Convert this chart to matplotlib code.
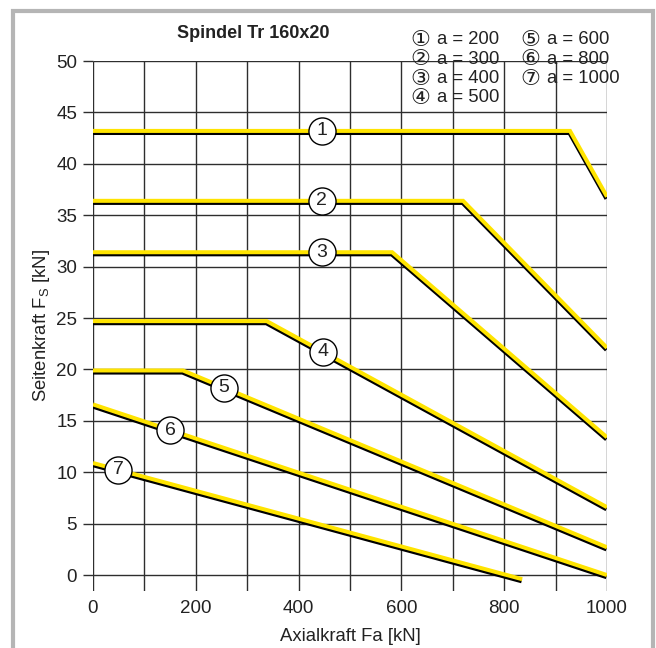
import matplotlib
matplotlib.use("Agg")
import matplotlib.pyplot as plt
import matplotlib.transforms as mtransforms
from matplotlib.patches import Rectangle
import numpy as np

plt.rcParams['font.family'] = ['Liberation Sans', 'DejaVu Sans']
plt.rcParams['mathtext.fontset'] = 'custom'
plt.rcParams['mathtext.rm'] = 'Liberation Sans'

# Curve break points (Axialkraft Fa [kN], Seitenkraft Fs [kN]) per distance a
curve_ids = ["1", "2", "3", "4", "5", "6", "7"]
a_values = [200, 300, 400, 500, 600, 800, 1000]
curve_fa = [
    [0, 928, 1000],
    [0, 720, 1000],
    [0, 582, 1000],
    [0, 338, 1000],
    [0, 175, 1000],
    [0, 1000],
    [0, 835],
]
curve_fs = [
    [43.2, 43.2, 36.8],
    [36.4, 36.4, 22.1],
    [31.4, 31.4, 13.4],
    [24.7, 24.7, 6.6],
    [19.9, 19.9, 2.7],
    [16.6, 0.0],
    [10.9, -0.4],
]
# Position of each numbered marker along its curve (Fa)
marker_fa = [445, 445, 445, 447, 255, 150, 49]

x_ticks = [0, 200, 400, 600, 800, 1000]
y_ticks = [0, 5, 10, 15, 20, 25, 30, 35, 40, 45, 50]

circled = ["\u2460", "\u2461", "\u2462", "\u2463", "\u2464", "\u2465", "\u2466"]

yellow = "#ffe400"
grid_c = "#2e2e2e"
text_c = "#222222"

fig = plt.figure(figsize=(6.56, 6.48), dpi=100)
ax = fig.add_axes([93 / 656, 1 - 590.5 / 648, 514 / 656, 529.5 / 648])
ax.set_xlim(0, 1000)
ax.set_ylim(-1.5, 50)

for s in ax.spines.values():
    s.set_visible(False)

# grid
for xv in range(0, 1001, 100):
    ax.plot([xv, xv], [-1.5, 50], color=grid_c, lw=1.0, zorder=1, solid_capstyle='butt')
for yv in y_ticks:
    ax.plot([0, 1000], [yv, yv], color=grid_c, lw=1.0, zorder=1, solid_capstyle='butt')

shadow = mtransforms.offset_copy(ax.transData, fig=fig, x=-0.4, y=-1.5, units='points')

for fa, fs, mfa, cid in zip(curve_fa, curve_fs, marker_fa, curve_ids):
    ax.plot(fa, fs, color='black', lw=2.9, transform=shadow, zorder=3,
            solid_joinstyle='miter', solid_capstyle='butt')
    ax.plot(fa, fs, color=yellow, lw=2.9, zorder=4,
            solid_joinstyle='miter', solid_capstyle='butt')
    mfs = float(np.interp(mfa, fa, fs))
    ax.plot([mfa], [mfs], marker='o', ms=19.5, mfc='white', mec='black', mew=1.0, zorder=5)
    ax.text(mfa, mfs, cid, ha='center', va='center', fontsize=14, color=text_c, zorder=6)

ax.set_xticks(x_ticks)
ax.set_xticklabels([str(v) for v in x_ticks])
ax.set_yticks(y_ticks)
ax.set_yticklabels([str(v) for v in y_ticks])
ax.tick_params(axis='x', length=0, pad=7, labelsize=13.5, colors=text_c)
ax.tick_params(axis='y', length=7.5, width=1.0, color=grid_c, pad=4, labelsize=13.5, labelcolor=text_c)
ax.set_xlabel("Axialkraft Fa [kN]", fontsize=13.3, labelpad=8, color=text_c)
ax.set_ylabel("Seitenkraft F$_\\mathrm{S}$ [kN]", fontsize=13.3, labelpad=3, color=text_c)

fig.text(253 / 656, 1 - 33 / 648, "Spindel Tr 160x20", ha='center', va='center',
         fontsize=13, fontweight='bold', color=text_c)

# legend block
rows = [0, 1, 2, 3, 0, 1, 2]
cols = [0, 0, 0, 0, 1, 1, 1]
for i in range(len(curve_ids)):
    y = 1 - (40 + rows[i] * 19.3) / 648
    x0 = (410 + cols[i] * 110) / 656
    fig.text(x0, y, circled[i], ha='left', va='center', fontsize=16,
             family=['DejaVu Sans'], color=text_c)
    fig.text(x0 + 27 / 656, y, f"a = {a_values[i]}", ha='left', va='center',
             fontsize=13.3, color=text_c)

fig.patches.append(Rectangle((13 / 656, -0.05), 640 / 656, 1 - 11 / 648 + 0.05,
                             transform=fig.transFigure, fill=False,
                             edgecolor='#b5b5b5', lw=3.0))

fig.savefig("out.png", dpi=100)
